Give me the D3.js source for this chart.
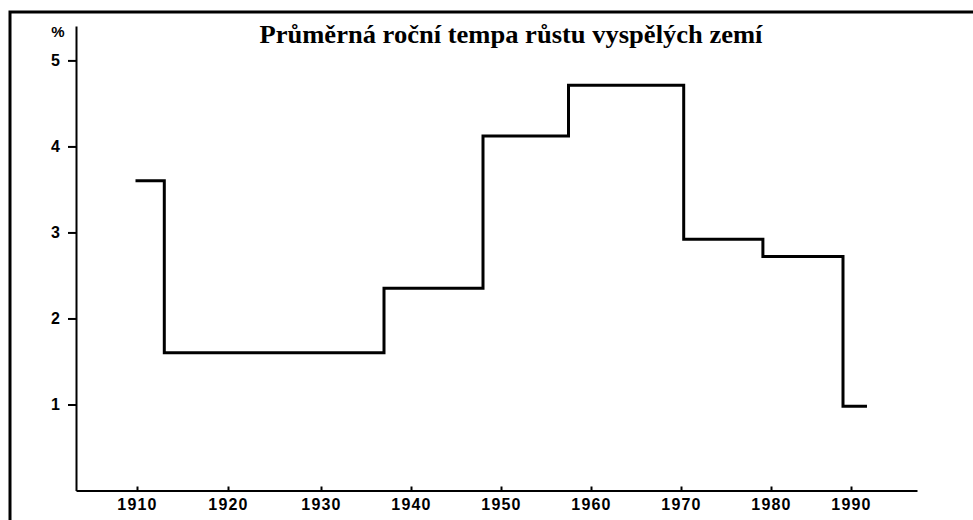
<!DOCTYPE html>
<html lang="cs">
<head>
  <meta charset="UTF-8">
  <title>Průměrná roční tempa růstu vyspělých zemí</title>
  <script src="https://d3js.org/d3.v7.min.js"></script>
  <style type="text/css">
    body { margin: 0; background: #fff; }
    .axis path, .axis line { fill: none; stroke: #000; stroke-width: 2; }
    .axis text { font-family: "Liberation Sans", Arial, sans-serif; font-size: 16px; font-weight: bold; fill: #000; }
  </style>
</head>
<body>
<script type="text/javascript">
  // Width and height
  var w = 973;
  var h = 520;

  // Step data: period boundaries (years) and average growth rate (%) in each period
  var periodStarts = [1910, 1913, 1937, 1948, 1957.5, 1970.3, 1979.1, 1989];
  var lastPeriodEnd = 1991.8;
  var growthRates = [3.6, 1.6, 2.35, 4.12, 4.71, 2.92, 2.72, 0.98];

  // Tick labels
  var yearTicks = [1910, 1920, 1930, 1940, 1950, 1960, 1970, 1980, 1990];
  var rateTicks = [1, 2, 3, 4, 5];

  var titleText = "Průměrná roční tempa růstu vyspělých zemí";
  var unitText = "%";

  var svg = d3.select("body")
    .append("svg")
    .attr("width", w)
    .attr("height", h);

  // Frame around the whole figure (runs off the right and bottom edge, as in the scan)
  svg.append("rect")
    .attr("x", 10)
    .attr("y", 12)
    .attr("width", w + 20)
    .attr("height", h + 20)
    .attr("fill", "none")
    .attr("stroke", "#000")
    .attr("stroke-width", 3);

  // Scales (the printed axis is slightly uneven, so the x scale is piecewise)
  var xScale = d3.scaleLinear()
    .domain([1903.3].concat(yearTicks, [1998.2]))
    .range([76, 137, 228, 321, 411, 501, 591, 681, 771, 851, 917]);

  var yScale = d3.scaleLinear()
    .domain([0, 5.4])
    .range([490.5, 26]);

  // Axes
  var xAxis = d3.axisBottom(xScale)
    .tickValues(yearTicks)
    .tickFormat(d3.format("d"))
    .tickSizeInner(-4)
    .tickSizeOuter(0)
    .tickPadding(8);

  var yAxis = d3.axisLeft(yScale)
    .tickValues(rateTicks)
    .tickFormat(d3.format("d"))
    .tickSizeInner(8)
    .tickSizeOuter(0)
    .tickPadding(8);

  var gx = svg.append("g")
    .attr("class", "axis")
    .attr("transform", "translate(0," + yScale(0) + ")")
    .call(xAxis);
  gx.selectAll("text").style("letter-spacing", "1.2px");

  svg.append("g")
    .attr("class", "axis")
    .attr("transform", "translate(" + xScale(1903.3) + ",0)")
    .call(yAxis);

  // Step line
  var points = periodStarts.map(function (d, i) { return [d, growthRates[i]]; });
  points.push([lastPeriodEnd, growthRates[growthRates.length - 1]]);

  var line = d3.line()
    .x(function (d) { return xScale(d[0]); })
    .y(function (d) { return yScale(d[1]); })
    .curve(d3.curveStepAfter);

  svg.append("path")
    .datum(points)
    .attr("d", line)
    .attr("fill", "none")
    .attr("stroke", "#000")
    .attr("stroke-width", 3)
    .attr("stroke-linejoin", "miter")
    .attr("stroke-linecap", "square");

  // Unit label
  svg.append("text")
    .attr("x", 58)
    .attr("y", 37)
    .attr("text-anchor", "middle")
    .attr("font-family", "Liberation Sans, Arial, sans-serif")
    .attr("font-size", "15px")
    .attr("font-weight", "bold")
    .text(unitText);

  // Title
  var title = svg.append("text")
    .attr("x", 511)
    .attr("y", 43)
    .attr("text-anchor", "middle")
    .attr("font-family", "Liberation Serif, Times New Roman, serif")
    .attr("font-size", "26px")
    .attr("font-weight", "bold")
    .text(titleText);

  var len = title.node().getComputedTextLength();
  if (Math.abs(len - 503) > 4) {
    title.attr("textLength", 503).attr("lengthAdjust", "spacingAndGlyphs");
  }
</script>
</body>
</html>
